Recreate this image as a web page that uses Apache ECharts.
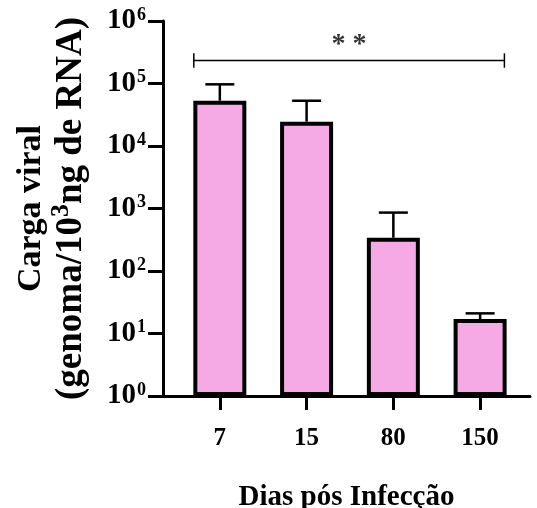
<!DOCTYPE html>
<html><head><meta charset="utf-8">
<script src="https://cdn.jsdelivr.net/npm/echarts@6/dist/echarts.min.js"></script>
<style>html,body{margin:0;padding:0;background:#fff}#c{width:537px;height:508px}</style>
</head><body><div id="c"></div>
<script>
var categories = ['7', '15', '80', '150'];
var means = [53000, 24500, 340, 17];
var errUpper = [97000, 53000, 860, 21];
var yTickExponents = [0, 1, 2, 3, 4, 5, 6];
var bracketFrom = 0.7, bracketTo = 4.28, bracketY = 234000, bracketTickTop = 305000, bracketTickBottom = 178000;
var sigLabel = '* *';

var FONT = "'Liberation Serif','Times New Roman',serif";
var xs = categories.map(function (c, i) { return i + 1; });
var barData = xs.map(function (x, i) { return [x, means[i]]; });
var errData = xs.map(function (x, i) { return [x, means[i], errUpper[i]]; });
var bracketData = [
  [bracketFrom, bracketTickTop], [bracketFrom, bracketTickBottom], [bracketFrom, bracketY],
  [bracketTo, bracketY], [bracketTo, bracketTickTop], [bracketTo, bracketTickBottom]
];
var labelPoint = [[(bracketFrom + bracketTo) / 2, bracketY]];

var chart = echarts.init(document.getElementById('c'), null, { renderer: 'canvas' });
chart.setOption({
  animation: false,
  backgroundColor: '#fff',
  grid: { left: 163, right: 7, top: 21, bottom: 112, containLabel: false, outerBoundsMode: 'none' },
  xAxis: {
    type: 'value', min: 0.345, max: 4.575,
    splitLine: { show: false },
    axisLine: { show: true, lineStyle: { color: '#000', width: 3 } },
    axisTick: { show: true, customValues: xs, length: 14, lineStyle: { color: '#000', width: 3 } },
    axisLabel: {
      show: true, customValues: xs, margin: 30,
      formatter: function (v) { return categories[Math.round(v) - 1]; },
      color: '#000', fontFamily: FONT, fontWeight: 'bold', fontSize: 25
    },
    name: 'Dias pós Infecção', nameLocation: 'middle', nameGap: 87,
    nameTextStyle: { color: '#000', fontFamily: FONT, fontWeight: 'bold', fontSize: 29 }
  },
  yAxis: {
    type: 'log', logBase: 10, min: 1, max: 1000000,
    splitLine: { show: false },
    axisLine: { show: true, lineStyle: { color: '#000', width: 3 } },
    axisTick: { show: true, length: 15, lineStyle: { color: '#000', width: 3 } },
    axisLabel: {
      margin: 17, color: '#000',
      formatter: function (v) {
        var e = Math.round(Math.log10(v));
        if (yTickExponents.indexOf(e) < 0) return '';
        return '{b|10}{s|' + e + '}';
      },
      rich: {
        b: { fontFamily: FONT, fontWeight: 'bold', fontSize: 29, color: '#000', lineHeight: 30 },
        s: { fontFamily: FONT, fontWeight: 'bold', fontSize: 18, color: '#000', lineHeight: 18, verticalAlign: 'top', padding: [0, 0, 10, 1] }
      }
    },
    name: '{a|Carga viral}\n{t|(genoma/10}{sup|3}{t|ng de RNA)}',
    nameLocation: 'middle', nameRotate: 90, nameGap: 72,
    nameTextStyle: {
      color: '#000',
      rich: {
        a: { fontFamily: FONT, fontWeight: 'bold', fontSize: 34, color: '#000', lineHeight: 40 },
        t: { fontFamily: FONT, fontWeight: 'bold', fontSize: 37, color: '#000', lineHeight: 40 },
        sup: { fontFamily: FONT, fontWeight: 'bold', fontSize: 26, color: '#000', lineHeight: 40, padding: [0, 0, 20, 0] }
      }
    }
  },
  series: [
    {
      type: 'bar', data: barData, barWidth: 53, z: 2,
      itemStyle: { color: '#F5AAE6', borderColor: '#000', borderWidth: 4 }
    },
    {
      type: 'custom', data: errData, z: 1,
      renderItem: function (params, api) {
        var x = api.value(0);
        var top = api.coord([x, api.value(2)]);
        var base = api.coord([x, api.value(1)]);
        var hw = 14.5;
        return {
          type: 'group',
          children: [
            { type: 'line', shape: { x1: top[0], y1: top[1], x2: base[0], y2: base[1] }, style: { stroke: '#000', lineWidth: 2.5 } },
            { type: 'line', shape: { x1: top[0] - hw, y1: top[1], x2: top[0] + hw, y2: top[1] }, style: { stroke: '#000', lineWidth: 2.5 } }
          ]
        };
      }
    },
    {
      type: 'line', data: bracketData, symbol: 'none', z: 3,
      lineStyle: { color: '#000', width: 1.5 }
    },
    {
      type: 'scatter', data: labelPoint, symbolSize: 0, z: 3,
      label: { show: true, position: 'top', distance: 2, formatter: sigLabel, color: '#000', fontFamily: FONT, fontWeight: 'bold', fontSize: 28 }
    }
  ]
});
</script></body></html>
